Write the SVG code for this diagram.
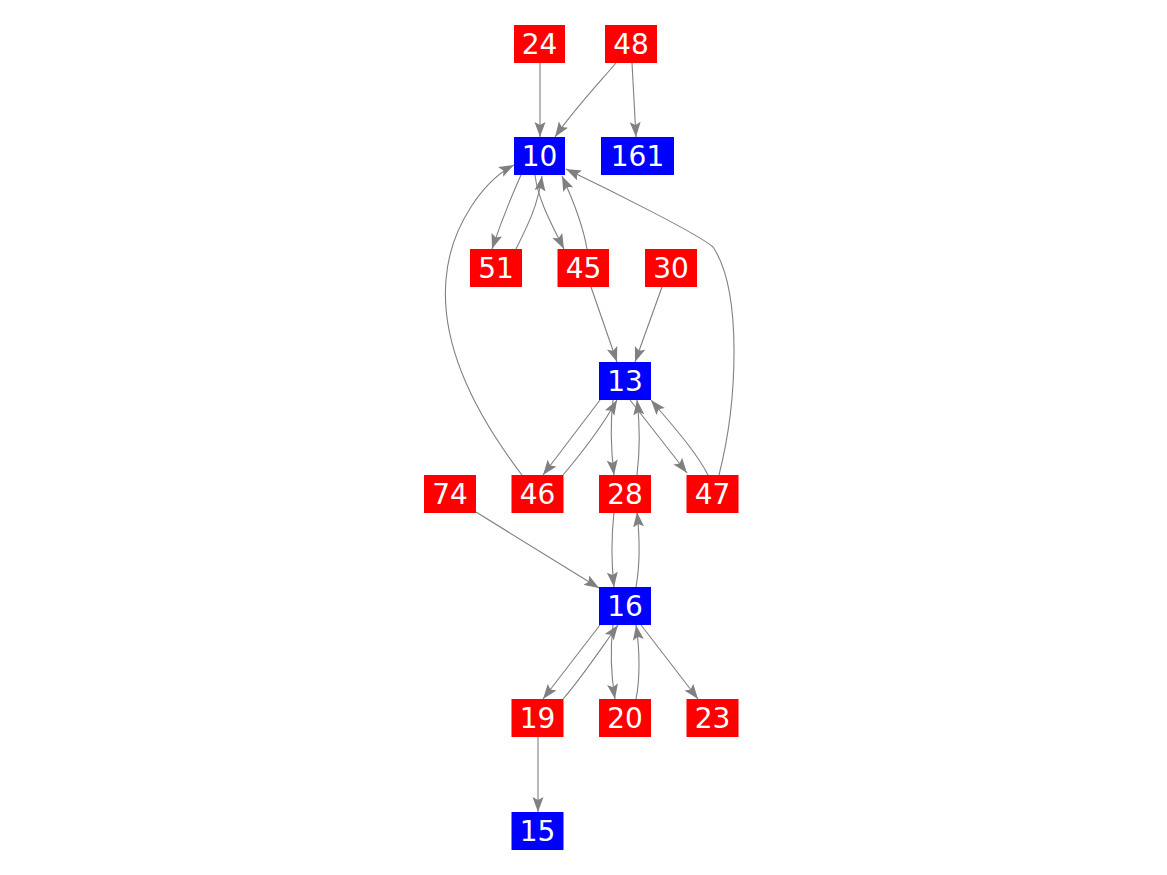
<svg xmlns="http://www.w3.org/2000/svg" width="1167" height="875" viewBox="0 0 1167 875">
<style>
.r{fill:#ff0000}
.b{fill:#0000ff}
.t{fill:#ffffff;font-family:"DejaVu Sans",sans-serif;font-size:28px;text-anchor:middle}
.e{fill:none;stroke:#808080;stroke-width:1.1;marker-end:url(#a)}
</style>
<defs>
<marker id="a" markerUnits="userSpaceOnUse" markerWidth="16" markerHeight="12" viewBox="0 0 16 12" refX="15" refY="6" orient="auto">
<path d="M0,0.5 L15,6 L0,11.5 L3,6 Z" fill="#808080"/>
</marker>
</defs>
<rect width="1167" height="875" fill="#ffffff"/>
<g id="connectors">
<path class="e" d="M540,63 L540,137"/>
<path class="e" d="M616,63 C598,84 572,112 555,137"/>
<path class="e" d="M632,63 L636,137"/>
<path class="e" d="M521,175 C512,195 500,225 492,249"/>
<path class="e" d="M516,249 C528,225 538,205 542,176"/>
<path class="e" d="M535,175 C538,200 552,225 564,249"/>
<path class="e" d="M587,249 C583,225 573,200 562,176"/>
<path class="e" d="M719,475 C738,400 742,290 713,247 C700,235 610,190 566,169"/>
<path class="e" d="M522,475 C480,420 440,350 446,280 C450,225 485,180 514,165"/>
<path class="e" d="M591,287 L617,362"/>
<path class="e" d="M662,287 L635,362"/>
<path class="e" d="M600,400 L543,475"/>
<path class="e" d="M563,475 C580,455 600,430 617,400"/>
<path class="e" d="M613,400 C610,425 611,450 614,475"/>
<path class="e" d="M637,475 C640,450 640,425 637,400"/>
<path class="e" d="M630,400 L687,473"/>
<path class="e" d="M708,475 C695,450 672,425 651,400"/>
<path class="e" d="M476,512 L599,588"/>
<path class="e" d="M614,512 C611,540 611,560 614,587"/>
<path class="e" d="M636,587 C640,565 640,540 637,512"/>
<path class="e" d="M600,625 L543,699"/>
<path class="e" d="M563,699 C580,680 600,650 618,625"/>
<path class="e" d="M613,625 C610,650 611,675 615,699"/>
<path class="e" d="M636,699 C640,680 640,650 636,625"/>
<path class="e" d="M641,625 L698,699"/>
<path class="e" d="M538,737 L538,812"/>
</g>
<g id="n24"><rect class="r" x="514" y="25" width="51" height="38"/><text class="t" x="539.5" y="53.5">24</text></g>
<g id="n48"><rect class="r" x="605" y="25" width="52" height="38"/><text class="t" x="631" y="53.5">48</text></g>
<g id="n10"><rect class="b" x="514" y="137" width="51" height="38"/><text class="t" x="539.5" y="165.5">10</text></g>
<g id="n161"><rect class="b" x="601" y="137" width="73" height="38"/><text class="t" x="637.5" y="165.5">161</text></g>
<g id="n51"><rect class="r" x="470" y="249" width="52" height="38"/><text class="t" x="496" y="277.5">51</text></g>
<g id="n45"><rect class="r" x="557.5" y="249" width="51.5" height="38"/><text class="t" x="583.5" y="277.5">45</text></g>
<g id="n30"><rect class="r" x="645" y="249" width="52" height="38"/><text class="t" x="671" y="277.5">30</text></g>
<g id="n13"><rect class="b" x="599" y="362" width="52" height="38"/><text class="t" x="625" y="390.5">13</text></g>
<g id="n74"><rect class="r" x="424" y="475" width="52" height="38"/><text class="t" x="450" y="503.5">74</text></g>
<g id="n46"><rect class="r" x="511.5" y="475" width="52" height="38"/><text class="t" x="537.5" y="503.5">46</text></g>
<g id="n28"><rect class="r" x="599" y="475" width="52" height="38"/><text class="t" x="625" y="503.5">28</text></g>
<g id="n47"><rect class="r" x="686.5" y="475" width="52" height="38"/><text class="t" x="712.5" y="503.5">47</text></g>
<g id="n16"><rect class="b" x="599" y="587" width="52" height="38"/><text class="t" x="625" y="615.5">16</text></g>
<g id="n19"><rect class="r" x="511.5" y="699" width="52" height="38"/><text class="t" x="537.5" y="727.5">19</text></g>
<g id="n20"><rect class="r" x="599" y="699" width="52" height="38"/><text class="t" x="625" y="727.5">20</text></g>
<g id="n23"><rect class="r" x="686.5" y="699" width="52" height="38"/><text class="t" x="712.5" y="727.5">23</text></g>
<g id="n15"><rect class="b" x="511.5" y="812" width="52" height="38"/><text class="t" x="537.5" y="840.5">15</text></g>
</svg>
